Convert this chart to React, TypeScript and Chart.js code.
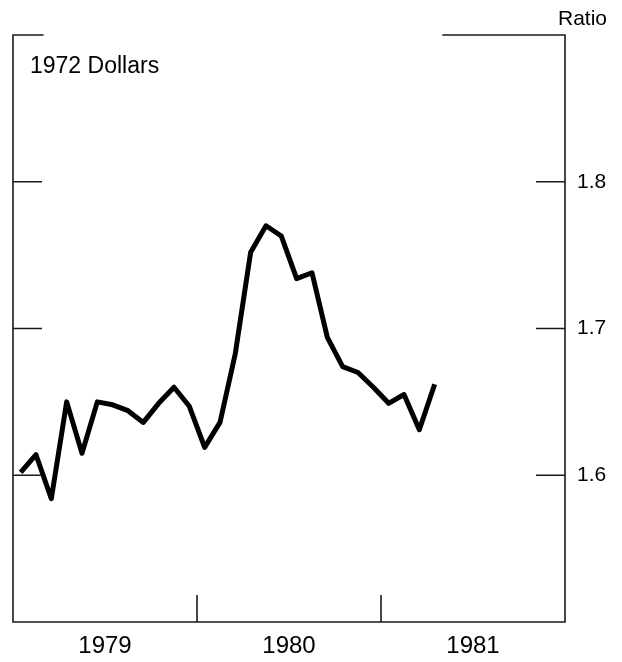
import React, { useEffect, useRef } from 'react';
import { Chart, registerables } from 'chart.js';

Chart.register(...registerables);

// Monthly ratio, Jan 1979 .. Apr 1981 (1972 dollars)
const ratioValues = [
  1.602, 1.614, 1.584, 1.650, 1.615, 1.650, 1.648, 1.644, 1.636, 1.649, 1.660, 1.647,
  1.619, 1.636, 1.683, 1.752, 1.770, 1.763, 1.734, 1.738, 1.694, 1.674, 1.670, 1.660,
  1.649, 1.655, 1.631, 1.662,
];
const yearLabels = ['1979', '1980', '1981'];
const yTickValues = [1.6, 1.7, 1.8];
const yMin = 1.5;
const yMax = 1.9;
const monthsTotal = 36;
const yearBoundaries = [12, 24];
const unitLabel = 'Ratio';
const seriesLabel = '1972 Dollars';

const FONT = '"Liberation Sans", Arial, Helvetica, sans-serif';

const framePlugin = {
  id: 'frame',
  afterDatasetsDraw(chart: any) {
    const { ctx, chartArea, scales } = chart;
    const { left, right, top, bottom } = chartArea;
    const x = scales.x;
    const y = scales.y;
    ctx.save();
    ctx.strokeStyle = '#1a1a1a';
    ctx.lineWidth = 1.6;
    ctx.beginPath();
    ctx.moveTo(left, top - 0.8);
    ctx.lineTo(left, bottom);
    ctx.moveTo(right, top - 0.8);
    ctx.lineTo(right, bottom);
    ctx.moveTo(left - 0.8, bottom);
    ctx.lineTo(right + 0.8, bottom);
    ctx.moveTo(left, top);
    ctx.lineTo(x.getPixelForValue(2), top);
    ctx.moveTo(x.getPixelForValue(28), top);
    ctx.lineTo(right, top);
    yTickValues.forEach((v) => {
      const py = y.getPixelForValue(v);
      ctx.moveTo(left, py);
      ctx.lineTo(left + 29, py);
      ctx.moveTo(right - 29, py);
      ctx.lineTo(right, py);
    });
    yearBoundaries.forEach((m) => {
      const px = x.getPixelForValue(m);
      ctx.moveTo(px, bottom);
      ctx.lineTo(px, bottom - 27);
    });
    ctx.stroke();

    ctx.fillStyle = '#000';
    ctx.textBaseline = 'alphabetic';
    ctx.textAlign = 'left';
    ctx.font = `23px ${FONT}`;
    ctx.fillText(seriesLabel, left + 17, 73);
    ctx.font = `21px ${FONT}`;
    ctx.fillText(unitLabel, 558, 25);
    ctx.restore();
  },
};

export default function App() {
  const canvasRef = useRef<HTMLCanvasElement | null>(null);

  useEffect(() => {
    const canvas = canvasRef.current;
    if (!canvas) return;
    const data = ratioValues.map((v, i) => ({ x: i + 0.5, y: v }));
    const chart = new Chart(canvas, {
      type: 'line',
      data: {
        datasets: [
          {
            label: seriesLabel,
            data,
            borderColor: '#000',
            borderWidth: 5,
            pointRadius: 0,
            tension: 0,
            borderJoinStyle: 'round',
            borderCapStyle: 'butt',
            fill: false,
          },
        ],
      },
      options: {
        animation: false,
        responsive: true,
        maintainAspectRatio: false,
        layout: { padding: { left: 13, top: 35, right: 0, bottom: 0 } },
        plugins: {
          legend: { display: false },
          tooltip: { enabled: false },
          title: { display: false },
        },
        scales: {
          x: {
            type: 'linear',
            min: 0,
            max: monthsTotal,
            border: { display: false },
            grid: { display: false, drawTicks: false },
            afterBuildTicks: (s: any) => {
              s.ticks = yearLabels.map((_, i) => ({ value: 12 * i + 6 }));
            },
            afterFit: (s: any) => {
              s.height = 40;
            },
            ticks: {
              autoSkip: false,
              maxRotation: 0,
              minRotation: 0,
              padding: 10,
              color: '#000',
              font: { family: FONT, size: 24 },
              callback: (v: any) => yearLabels[Math.round((Number(v) - 6) / 12)],
            },
          },
          y: {
            position: 'right',
            min: yMin,
            max: yMax,
            border: { display: false },
            grid: { display: false, drawTicks: false },
            afterBuildTicks: (s: any) => {
              s.ticks = yTickValues.map((v) => ({ value: v }));
            },
            afterFit: (s: any) => {
              s.width = 57;
            },
            ticks: {
              padding: 12,
              color: '#000',
              font: { family: FONT, size: 21 },
              callback: (v: any) => Number(v).toFixed(1),
            },
          },
        },
      },
      plugins: [framePlugin],
    });
    return () => chart.destroy();
  }, []);

  return (
    <div style={{ position: 'fixed', left: 0, top: 0, width: 622, height: 662, background: '#fff' }}>
      <canvas ref={canvasRef} />
    </div>
  );
}
